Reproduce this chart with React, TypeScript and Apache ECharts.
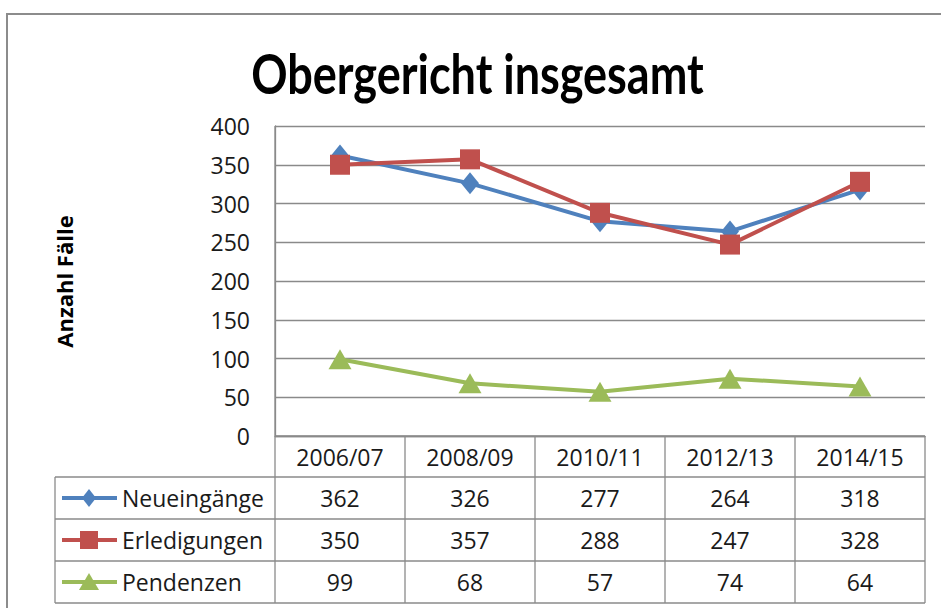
import React, { useEffect, useRef } from "react";
import * as echarts from "echarts";

const categories = ["2006/07", "2008/09", "2010/11", "2012/13", "2014/15"];
const seriesNames = ["Neueingänge", "Erledigungen", "Pendenzen"];
const neueingaenge = [362, 326, 277, 264, 318];
const erledigungen = [350, 357, 288, 247, 328];
const pendenzen = [99, 68, 57, 74, 64];
const title = "Obergericht insgesamt";
const yTitle = "Anzahl Fälle";

const COLORS = ["#4F81BD", "#C0504D", "#9BBB59"];
const FONT = "'Open Sans', sans-serif";

// layout
const PLOT_LEFT = 275;
const PLOT_RIGHT = 925;
const PLOT_TOP = 126;
const PLOT_BOTTOM = 436;
const TABLE_LEFT = 55;
const ROW_Y = [436, 477, 519, 561, 603];
const GRID_COLOR = "#8a8a8a";
const TEXT_SIZE = 23;

export default function App() {
  const ref = useRef<HTMLDivElement>(null);
  useEffect(() => {
    if (!ref.current) return;
    const chart = echarts.init(ref.current, null, { renderer: "svg" });
    const colW = (PLOT_RIGHT - PLOT_LEFT) / categories.length;
    const values = [neueingaenge, erledigungen, pendenzen];
    const graphics: any[] = [];

    // outer frame
    graphics.push({
      type: "rect",
      shape: { x: 7, y: 14, width: 960, height: 640 },
      style: { fill: "none", stroke: "#8c8c8c", lineWidth: 2 },
      silent: true,
    });

    // title
    graphics.push({
      type: "text",
      x: 477.5,
      y: 72,
      scaleX: 1,
      scaleY: 1.25,
      style: {
        text: title,
        font: "bold 45px Lato, sans-serif",
        fill: "#000",
        textAlign: "center",
        textVerticalAlign: "middle",
      },
      silent: true,
    });

    // table horizontal lines
    ROW_Y.forEach((y, i) => {
      const x1 = i === 0 ? PLOT_LEFT : TABLE_LEFT;
      graphics.push({
        type: "line",
        shape: { x1, y1: y, x2: PLOT_RIGHT, y2: y },
        style: { stroke: GRID_COLOR, lineWidth: 1.3 },
        silent: true,
      });
    });
    // table vertical lines
    for (let c = 0; c <= categories.length; c++) {
      const x = PLOT_LEFT + c * colW;
      graphics.push({
        type: "line",
        shape: { x1: x, y1: c === 0 ? PLOT_TOP : ROW_Y[0], x2: x, y2: ROW_Y[ROW_Y.length - 1] },
        style: { stroke: GRID_COLOR, lineWidth: 1.3 },
        silent: true,
      });
    }
    graphics.push({
      type: "line",
      shape: { x1: TABLE_LEFT, y1: ROW_Y[1], x2: TABLE_LEFT, y2: ROW_Y[ROW_Y.length - 1] },
      style: { stroke: GRID_COLOR, lineWidth: 1.3 },
      silent: true,
    });

    // category header
    categories.forEach((cat, c) => {
      graphics.push({
        type: "text",
        x: PLOT_LEFT + (c + 0.5) * colW,
        y: (ROW_Y[0] + ROW_Y[1]) / 2,
        style: {
          text: cat,
          font: `${TEXT_SIZE}px ${FONT}`,
          fill: "#1a1a1a",
          textAlign: "center",
          textVerticalAlign: "middle",
        },
        silent: true,
      });
    });

    // rows
    seriesNames.forEach((name, r) => {
      const cy = (ROW_Y[r + 1] + ROW_Y[r + 2]) / 2;
      const color = COLORS[r];
      graphics.push({
        type: "line",
        shape: { x1: 62, y1: cy, x2: 117, y2: cy },
        style: { stroke: color, lineWidth: 4 },
        silent: true,
      });
      const mx = 89;
      if (r === 0) {
        graphics.push({
          type: "polygon",
          shape: { points: [[mx, cy - 9], [mx + 7, cy], [mx, cy + 9], [mx - 7, cy]] },
          style: { fill: color },
          silent: true,
        });
      } else if (r === 1) {
        graphics.push({
          type: "rect",
          shape: { x: mx - 9, y: cy - 9, width: 18, height: 18 },
          style: { fill: color },
          silent: true,
        });
      } else {
        graphics.push({
          type: "polygon",
          shape: { points: [[mx, cy - 9], [mx + 10, cy + 8], [mx - 10, cy + 8]] },
          style: { fill: color },
          silent: true,
        });
      }
      graphics.push({
        type: "text",
        x: 122,
        y: cy,
        style: {
          text: name,
          font: `${TEXT_SIZE}px ${FONT}`,
          fill: "#1a1a1a",
          textAlign: "left",
          textVerticalAlign: "middle",
        },
        silent: true,
      });
      values[r].forEach((v, c) => {
        graphics.push({
          type: "text",
          x: PLOT_LEFT + (c + 0.5) * colW,
          y: cy,
          style: {
            text: String(v),
            font: `${TEXT_SIZE}px ${FONT}`,
            fill: "#1a1a1a",
            textAlign: "center",
            textVerticalAlign: "middle",
          },
          silent: true,
        });
      });
    });

    // y-axis title
    graphics.push({
      type: "text",
      x: 63.5,
      y: 281.5,
      rotation: Math.PI / 2,
      style: {
        text: yTitle,
        font: `bold 22px ${FONT}`,
        fill: "#000",
        textAlign: "center",
        textVerticalAlign: "middle",
      },
      silent: true,
    });

    const symbols = ["diamond", "rect", "triangle"];
    const symbolSizes: any[] = [[18, 22], 20, [23, 20]];

    chart.setOption({
      animation: false,
      grid: {
        left: PLOT_LEFT,
        top: PLOT_TOP,
        width: PLOT_RIGHT - PLOT_LEFT,
        height: PLOT_BOTTOM - PLOT_TOP,
        containLabel: false,
      },
      xAxis: {
        type: "category",
        data: categories,
        boundaryGap: true,
        axisLine: { show: true, lineStyle: { color: GRID_COLOR, width: 1.3 } },
        axisTick: { show: false },
        axisLabel: { show: false },
        splitLine: { show: false },
      },
      yAxis: {
        type: "value",
        min: 0,
        max: 400,
        interval: 50,
        axisLine: { show: true, lineStyle: { color: GRID_COLOR, width: 1.3 } },
        axisTick: { show: false },
        axisLabel: {
          margin: 25,
          fontFamily: FONT,
          fontSize: TEXT_SIZE,
          color: "#1a1a1a",
        },
        splitLine: { show: true, lineStyle: { color: GRID_COLOR, width: 1.3 } },
      },
      series: seriesNames.map((name, i) => ({
        name,
        type: "line",
        data: values[i],
        symbol: symbols[i],
        symbolSize: symbolSizes[i],
        showSymbol: true,
        lineStyle: { color: COLORS[i], width: 4 },
        itemStyle: { color: COLORS[i] },
        z: 3 + i,
      })),
      graphic: graphics,
    });
    return () => chart.dispose();
  }, []);
  return (
    <div
      ref={ref}
      style={{ position: "fixed", left: 0, top: 0, width: 941, height: 608, background: "#fff" }}
    />
  );
}
